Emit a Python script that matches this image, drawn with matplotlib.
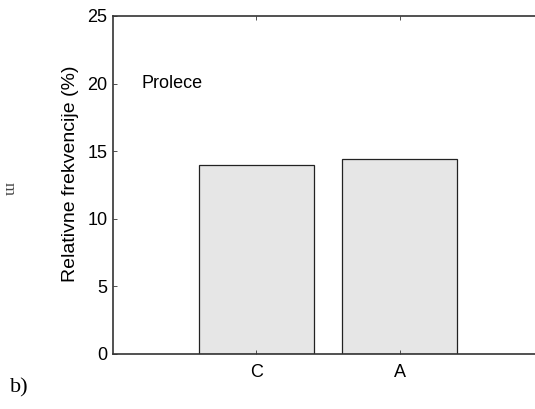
import matplotlib.pyplot as plt
import numpy as np

categories = ['C', 'A']
values = [14.0, 14.4]
season = 'Prolece'

plt.rcParams['font.family'] = ['Liberation Sans', 'DejaVu Sans']

fig = plt.figure(figsize=(5.35, 4.09), dpi=100)
ax = fig.add_axes([113 / 535, 55 / 409, 430 / 535, 338 / 409])

ind = np.arange(1, len(values) + 1)
ax.bar(ind, values, 0.8, color='#e6e6e6', edgecolor='#222222', linewidth=0.9)

# axes and labels
ax.set_xlim(0, 3)
ax.set_ylim(0, 25)
ax.set_yticks([0, 5, 10, 15, 20, 25])
ax.set_xticks(ind)
ax.set_xticklabels(categories)
ax.tick_params(direction='in', top=True, length=3, width=0.6, labelsize=13,
               color='#333333')
ax.tick_params(axis='x', pad=7)
ax.tick_params(axis='y', pad=4)
ax.set_ylabel('Relativne frekvencije (%)', fontsize=14)
ax.yaxis.set_label_coords(-0.079, 0.533)
for side in ['left', 'top', 'bottom', 'right']:
    ax.spines[side].set_linewidth(1.2)
    ax.spines[side].set_color('#333333')

ax.text(0.2, 20, season, fontsize=13, va='center', ha='left')

fig.text(10 / 535, 1 - 388 / 409, 'b)', fontsize=16, family='Liberation Serif',
         va='center', ha='left')
# fragment of a neighbouring panel's label at the left edge
fig.text(0.5 / 535, 1 - 189 / 409, 'm', fontsize=12, family='Liberation Serif',
         rotation=270, va='center', ha='left', color='#444444')

fig.savefig('out.png', dpi=100)
